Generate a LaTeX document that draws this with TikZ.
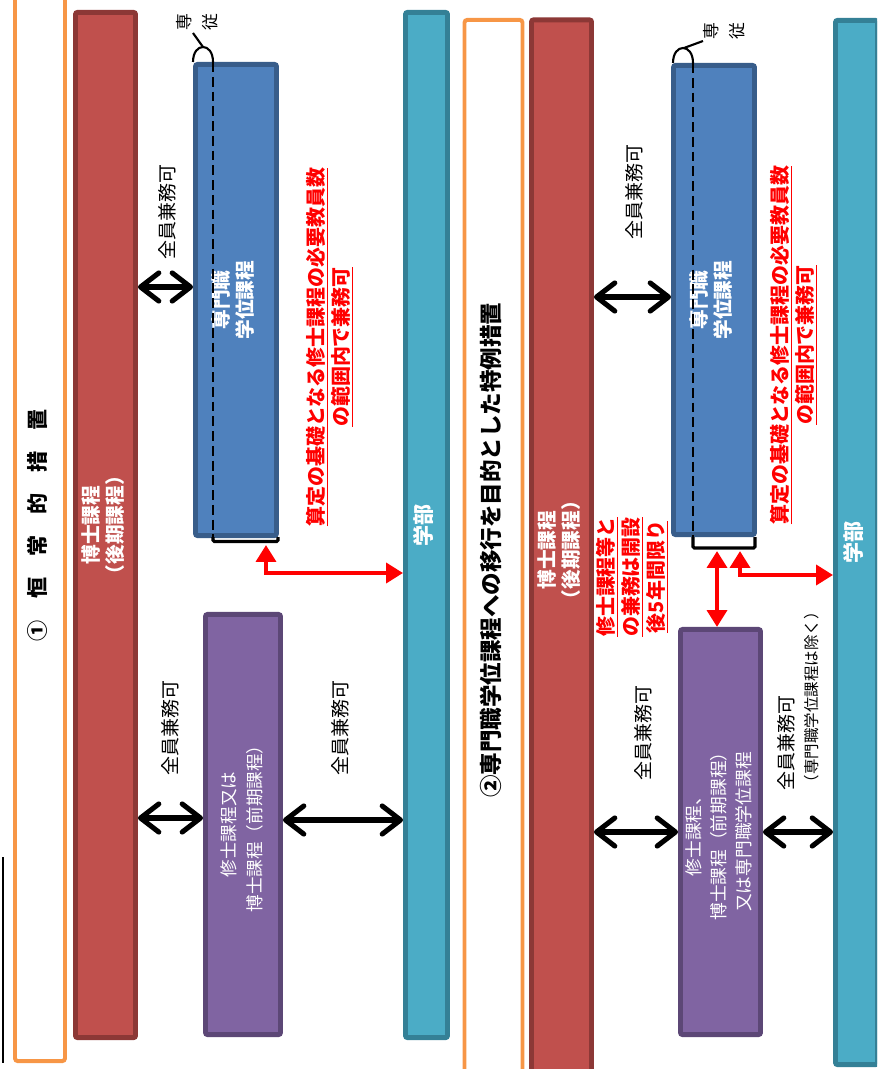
\documentclass[tikz,border=0pt]{standalone}
\usepackage{fontspec}
\usepackage{graphicx}
\setmainfont{Noto Sans CJK JP}
\definecolor{frameorange}{RGB}{247, 150, 70}
\definecolor{phdred}{RGB}{192, 80, 77}
\definecolor{phdreddark}{RGB}{140, 56, 54}
\definecolor{problue}{RGB}{79, 129, 189}
\definecolor{probluedark}{RGB}{56, 93, 138}
\definecolor{maspurple}{RGB}{128, 100, 162}
\definecolor{maspurpledark}{RGB}{92, 71, 118}
\definecolor{undteal}{RGB}{75, 172, 198}
\definecolor{undtealdark}{RGB}{52, 128, 150}
\definecolor{alertred}{RGB}{255, 0, 0}
\usetikzlibrary{arrows.meta, calc}

\newcommand{\rottext}[1]{\rotatebox{90}{\begin{tabular}{@{}c@{}}#1\end{tabular}}}

\begin{document}
\begin{tikzpicture}[x=0.025cm, y=-0.025cm,
    frame/.style={rectangle, draw=frameorange, line width=2.8pt, rounded corners=2pt, inner sep=0pt, font=\bfseries\fontsize{15}{18}\selectfont},
    bar/.style={rectangle, line width=3.5pt, rounded corners=1.5pt, inner sep=0pt, text=white, font=\bfseries\fontsize{14}{17}\selectfont},
    plain/.style={bar, font=\fontsize{12.5}{18.5}\selectfont},
    okay/.style={rotate=90, align=center, font=\fontsize{13.5}{17}\selectfont},
    alert/.style={rotate=90, align=center, text=alertred, font=\bfseries\fontsize{14.2}{17.8}\selectfont},
    kenmu/.style={line width=3.6pt, {Straight Barb[length=13pt,width=20pt,round]}-{Straight Barb[length=13pt,width=20pt,round]}},
    redarrow/.style={draw=alertred, line width=3.2pt, {Triangle[length=12pt,width=14pt]}-{Triangle[length=12pt,width=14pt]}},
    fullline/.style={line width=1.4pt, dash pattern=on 7pt off 3.5pt},
    hook/.style={line width=1.5pt}
]
    \useasboundingbox (0,0) rectangle (877,1069);
    \clip (0,0) rectangle (877,1069);

    % (1) permanent arrangement
    \node[frame, minimum width=1.25cm, minimum height=26.8cm] (head1) at (40,525) {\rottext{①　恒　常　的　措　置}};
    \node[bar, fill=phdred, draw=phdreddark, minimum width=1.5cm, minimum height=25.625cm] (phd1) at (105.5,525) {\rottext{博士課程\\（後期課程）}};
    \node[bar, fill=problue, draw=probluedark, minimum width=2.025cm, minimum height=11.775cm] (pro1) at (236,300) {\rottext{専門職\\学位課程}};
    \node[plain, fill=maspurple, draw=maspurpledark, minimum width=1.875cm, minimum height=10.5cm] (mas1) at (243,824.5) {\rottext{修士課程又は\\博士課程（前期課程）}};
    \node[bar, fill=undteal, draw=undtealdark, minimum width=1.05cm, minimum height=25.625cm, font=\bfseries\fontsize{15}{18}\selectfont] (und1) at (426.5,525) {\rottext{学部}};

    \draw[fullline] (213,62) -- (213,537);
    \draw[hook] (193,62) .. controls (193,42) and (213,42) .. (213,62);
    \draw[hook] (203,47) -- (193,33);
    \draw[line width=2.2pt, rounded corners=1pt] (213,537) |- (278,541.5) -- (278,537);
    \node[rotate=90, align=center, font=\fontsize{12}{19}\selectfont] (sen1) at (197,22) {専\\従};

    \node[okay] (ok1) at (167,212) {全員兼務可};
    \node[okay] (ok2) at (170,728) {全員兼務可};
    \node[okay] (ok3) at (340,728) {全員兼務可};
    \node[alert] (note1) at (330,347) {\underline{算定の基礎となる修士課程の必要教員数}\\\underline{の範囲内で兼務可}};

    \draw[kenmu] (phd1.east |- 0,287) -- (pro1.west |- 0,287);
    \draw[kenmu] (phd1.east |- 0,818) -- (mas1.west |- 0,818);
    \draw[kenmu] (mas1.east |- 0,820) -- (und1.west |- 0,820);
    \coordinate (tip1) at (266,545);
    \draw[redarrow] (und1.west |- 0,573) -| (tip1);

    % (2) special arrangement
    \node[frame, minimum width=1.45cm, minimum height=26.5cm, font=\bfseries\fontsize{16}{19}\selectfont] (head2) at (493.5,550) {\rottext{②専門職学位課程への移行を目的とした特例措置}};
    \node[bar, fill=phdred, draw=phdreddark, minimum width=1.5cm, minimum height=26.5cm] (phd2) at (561.5,550) {\rottext{博士課程\\（後期課程）}};
    \node[bar, fill=problue, draw=probluedark, minimum width=2.025cm, minimum height=11.725cm] (pro2) at (714,300) {\rottext{専門職\\学位課程}};
    \node[plain, fill=maspurple, draw=maspurpledark, minimum width=2cm, minimum height=10.125cm, font=\fontsize{12.6}{17.8}\selectfont] (mas2) at (720.5,832) {\rottext{修士課程、\\博士課程（前期課程）\\又は専門職学位課程}};
    \node[bar, fill=undteal, draw=undtealdark, minimum width=1.05cm, minimum height=26.1cm, font=\bfseries\fontsize{15}{18}\selectfont] (und2) at (856.5,542.5) {\rottext{学部}};

    \draw[fullline] (693,63) -- (693,537);
    \draw[hook] (673,63) .. controls (673,43) and (693,43) .. (693,63);
    \draw[hook] (684,48) -- (703,41);
    \draw[line width=2.2pt, rounded corners=1pt] (693,537) |- (755,548) -- (755,537);
    \node[rotate=90, align=center, font=\fontsize{12}{18}\selectfont] (sen2) at (724,31) {専\\従};

    \node[okay] (ok4) at (634,192) {全員兼務可};
    \node[okay] (ok5) at (643,733) {全員兼務可};
    \node[okay, align=left, anchor=west] (ok6) at (798,795) {全員兼務可\\{\fontsize{11}{13}\selectfont （専門職学位課程は除く）}};
    \node[alert] (note2) at (794,345) {\underline{算定の基礎となる修士課程の必要教員数}\\\underline{の範囲内で兼務可}};
    \node[alert] (note3) at (632,577) {\underline{修士課程等と}\\\underline{の兼務は開設}\\\underline{後5年間限り}};

    \draw[kenmu] (phd2.east |- 0,297) -- (pro2.west |- 0,297);
    \draw[kenmu] (phd2.east |- 0,832) -- (mas2.west |- 0,832);
    \draw[kenmu] (mas2.east |- 0,832) -- (und2.west |- 0,832);
    \coordinate (tip2) at (740,551);
    \coordinate (tip3) at (717,551);
    \draw[redarrow] (und2.west |- 0,575) -| (tip2);
    \draw[redarrow] (tip3) -- (tip3 |- mas2.north);

    % cut-off edge of the page
    \draw[line width=1pt] (3,857) -- (3,1063);
\end{tikzpicture}
\end{document}
